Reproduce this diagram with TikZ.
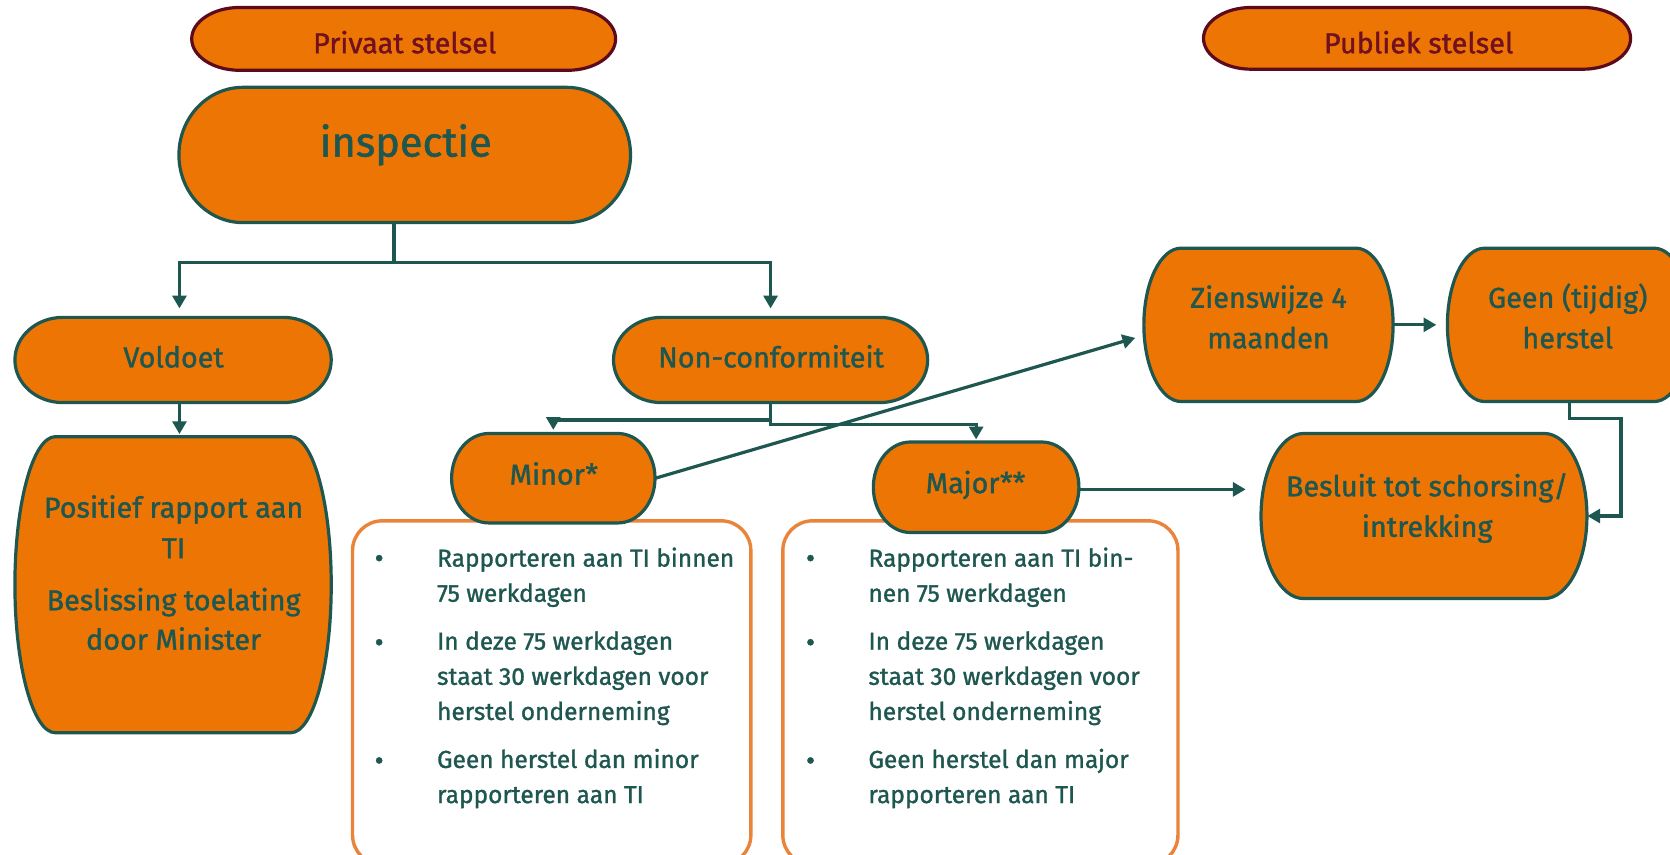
\documentclass[tikz,border=0pt]{standalone}
\usepackage{fontspec}
\setmainfont{Fira Sans}[FakeBold=1.2]
\usetikzlibrary{arrows.meta,fit}
\definecolor{org}{RGB}{236,117,4}
\definecolor{dteal}{RGB}{30,86,80}
\definecolor{maroonb}{RGB}{92,10,28}
\definecolor{maroont}{RGB}{112,16,32}
\definecolor{lorg}{RGB}{234,132,58}
\tikzset{
  bshape/.style={fill=org, draw=dteal, line width=1.5pt},
  mshape/.style={fill=org, draw=maroonb, line width=1.5pt},
  wbox/.style={fill=white, draw=lorg, line width=1.6pt, rounded corners=14pt},
  conn/.style={draw=dteal, line width=1.5pt, -{Triangle[length=6pt,width=6.5pt]}},
  lbl/.style={text=dteal, font=\fontsize{13.5}{16}\selectfont, inner sep=0pt, anchor=base},
  mlbl/.style={lbl, text=maroont},
  biglbl/.style={lbl, font=\fontsize{19.5}{22}\selectfont},
  itm/.style={text=dteal, font=\fontsize{11.5}{14}\selectfont, inner sep=0pt, anchor=base west},
  bul/.style={text=dteal, font=\fontsize{13}{14}\selectfont, inner sep=0pt, anchor=center},
}
% #1 style, #2 name, #3 left, #4 top, #5 right, #6 bottom, #7 side radius (px)
\newcommand\barrel[7]{%
  \pgfmathsetmacro\bhr{(#6-#4)/4}%
  \pgfmathsetmacro\brx{#7/2}%
  \draw[#1] (#3+#7,#4) -- (#5-#7,#4)
    arc[start angle=90,end angle=-90,x radius=\brx pt,y radius=\bhr pt]
    -- (#3+#7,#6)
    arc[start angle=270,end angle=90,x radius=\brx pt,y radius=\bhr pt] -- cycle;
  \node[fit={(#3,#4) (#5,#6)},inner sep=0pt] (#2) {};
}
\begin{document}
\begin{tikzpicture}[x=0.5pt,y=-0.5pt]
\useasboundingbox (0,0) rectangle (1568,802);
\clip (0,0) rectangle (1568,802);
\fill[white] (0,0) rectangle (1568,802);

% headers
\barrel{mshape}{priv}{180}{7}{578}{66}{45}
\node[mlbl] (priv-t) at (380,50) {Privaat stelsel};
\barrel{mshape}{pub}{1130}{7}{1531}{65}{45}
\node[mlbl] (pub-t) at (1332,50) {Publiek stelsel};

% inspectie
\barrel{bshape}{insp}{168}{82}{592}{209}{60}
\node[biglbl] (insp-t) at (381,147) {inspectie};

% voldoet branch
\barrel{bshape}{vold}{14}{298}{311}{378}{45}
\node[lbl] (vold-t) at (163,345) {Voldoet};
\barrel{bshape}{pos}{14}{410}{311}{688}{38}
\node[lbl] (pos-t1) at (163,486) {Positief rapport aan};
\node[lbl] (pos-t2) at (163,524) {TI};
\node[lbl] (pos-t3) at (163,573) {Beslissing toelating};
\node[lbl] (pos-t4) at (163,610) {door Minister};

% non-conformiteit
\barrel{bshape}{nc}{576}{298}{871}{378}{45}
\node[lbl] (nc-t) at (724,345) {Non-conformiteit};

% white boxes
\draw[wbox] (331,489) rectangle (705,812);
\node[fit={(331,489) (705,800)},inner sep=0pt] (minbox) {};
\draw[wbox] (735,489) rectangle (1106,812);
\node[fit={(735,489) (1106,800)},inner sep=0pt] (majbox) {};

% minor / major
\barrel{bshape}{minor}{424}{407}{615}{491}{35}
\node[lbl] (minor-t) at (520,455) {Minor*};
\barrel{bshape}{major}{820}{415}{1013}{500}{35}
\node[lbl] (major-t) at (916,463) {Major**};

% minor list
\node[bul] (mb1) at (356,527) {\textbullet};
\node[itm] (ml1) at (410,532) {Rapporteren aan TI binnen};
\node[itm] (ml2) at (410,565) {75 werkdagen};
\node[bul] (mb2) at (356,606) {\textbullet};
\node[itm] (ml3) at (410,610) {In deze 75 werkdagen};
\node[itm] (ml4) at (410,643) {staat 30 werkdagen voor};
\node[itm] (ml5) at (410,676) {herstel onderneming};
\node[bul] (mb3) at (356,717) {\textbullet};
\node[itm] (ml6) at (410,721) {Geen herstel dan minor};
\node[itm] (ml7) at (410,754) {rapporteren aan TI};

% major list
\node[bul] (jb1) at (761,527) {\textbullet};
\node[itm] (jl1) at (815,532) {Rapporteren aan TI bin-};
\node[itm] (jl2) at (815,565) {nen 75 werkdagen};
\node[bul] (jb2) at (761,606) {\textbullet};
\node[itm] (jl3) at (815,610) {In deze 75 werkdagen};
\node[itm] (jl4) at (815,643) {staat 30 werkdagen voor};
\node[itm] (jl5) at (815,676) {herstel onderneming};
\node[bul] (jb3) at (761,717) {\textbullet};
\node[itm] (jl6) at (815,721) {Geen herstel dan major};
\node[itm] (jl7) at (815,754) {rapporteren aan TI};

% public side
\barrel{bshape}{zien}{1074}{233}{1308}{377}{35}
\node[lbl] (zien-t1) at (1191,289) {Zienswijze 4};
\node[lbl] (zien-t2) at (1191,327) {maanden};
\barrel{bshape}{geen}{1359}{233}{1588}{377}{35}
\node[lbl] (geen-t1) at (1472,289) {Geen (tijdig)};
\node[lbl] (geen-t2) at (1472,327) {herstel};
\barrel{bshape}{bes}{1184}{407}{1490}{562}{40}
\node[lbl] (bes-t1) at (1340,466) {Besluit tot schorsing/};
\node[lbl] (bes-t2) at (1340,504) {intrekking};

% connectors
\draw[conn,shorten >=4pt] ([xshift=-5pt]insp.south) -- ++(0,37) -| ([xshift=3pt]vold.north);
\draw[conn,shorten >=4pt] ([xshift=-5pt]insp.south) -- ++(0,37) -| (nc.north);
\draw[conn,shorten >=1pt] ([xshift=3pt]vold.south) -- ([xshift=3pt]pos.north);
\draw[conn,shorten >=1.5pt] (nc.south) -- ++(0,16) -| (minor.north);
\draw[conn,shorten >=1pt] (nc.south) -- ++(0,20) -| (major.north);
\draw[conn,shorten >=4pt] (minor.east) -- ([yshift=-5pt]zien.west);
\draw[conn,shorten >=7pt] ([yshift=-1pt]major.east) -- ([yshift=-1pt]major.east -| bes.west);
\draw[conn,shorten >=5pt] (zien.east) -- (geen.west);
\coordinate (gb) at (1522,393);
\draw[conn] (geen.south) |- (gb) |- (bes.east);
\end{tikzpicture}
\end{document}
